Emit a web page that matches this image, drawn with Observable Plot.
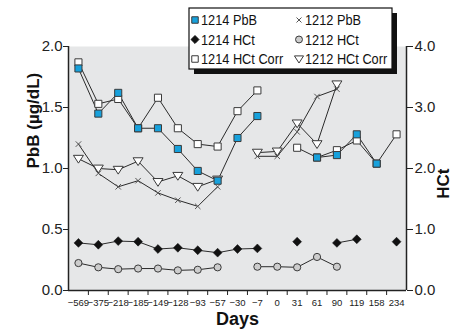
<!DOCTYPE html>
<html><head><meta charset="utf-8">
<script src="https://cdn.jsdelivr.net/npm/d3@7"></script>
<script src="https://cdn.jsdelivr.net/npm/@observablehq/plot@0.6"></script>
<style>body{margin:0;background:#fff} svg{display:block}</style>
</head><body><div id="chart"></div>
<script>
// Categories (days)
const days = [-569,-375,-218,-185,-149,-128,-93,-57,-30,-7,0,31,61,90,119,158,234];
// Left axis series (µg/dL)
const pbb1214     = [1.82,1.45,1.62,1.33,1.33,1.16,0.98,0.90,1.25,1.43,null,null,1.09,1.11,1.28,1.04,null];
const hctCorr1214 = [1.87,1.53,1.57,1.33,1.58,1.33,1.20,1.18,1.47,1.64,null,1.17,1.09,1.15,1.23,1.04,1.28];
const pbb1212     = [1.20,0.96,0.85,0.90,0.80,0.74,0.69,0.85,null,1.10,1.10,1.30,1.59,1.65,null,null,null];
const hctCorr1212 = [1.08,1.00,0.99,1.06,0.89,0.94,0.85,0.91,null,1.13,1.14,1.37,1.20,1.69,null,null,null];
// Right axis series (HCt)
const hct1214     = [0.78,0.75,0.81,0.80,0.68,0.70,0.66,0.62,0.68,0.69,null,0.80,null,0.78,0.84,null,0.80];
const hct1212     = [0.45,0.38,0.35,0.36,0.36,0.33,0.34,0.38,null,0.39,0.39,0.38,0.55,0.39,null,null,null];
// Axis ticks
const leftTicks  = [0, 0.5, 1.0, 1.5, 2.0];
const rightTicks = [0, 1.0, 2.0, 3.0, 4.0];
const hctRatio = 2; // right axis max 4.0 vs left max 2.0

const BLUE = "#17a1dc", BG = "#e6e7e8", LINE = "#2b2b2b", MK = "#3a3a3a";
const SANS = "'Liberation Sans',Arial,sans-serif";

const idx = d3.range(days.length);
const fmtDay = d => String(d).replace("-", "\u2212");
const bounds = d3.range(days.length - 1).map(i => i + 0.5);

const triDown = { draw(ctx, size) { const r = Math.sqrt(size / Math.PI);
  ctx.moveTo(-1.25*r, -0.85*r); ctx.lineTo(1.25*r, -0.85*r); ctx.lineTo(0, 1.1*r); ctx.closePath(); } };

const L = arr => ({x: i => i, y: i => arr[i] == null ? null : arr[i]});
const R = arr => ({x: i => i, y: i => arr[i] == null ? null : arr[i] / hctRatio});
const lineOpt = {stroke: LINE, strokeWidth: 1};

const plot = Plot.plot({
  width: 463, height: 330,
  marginLeft: 68, marginRight: 57, marginTop: 46, marginBottom: 40,
  x: {type: "linear", domain: [-0.5, days.length - 0.5]},
  y: {domain: [0, 2]},
  style: {fontFamily: SANS, background: "white", color: "#222"},
  marks: [
    Plot.frame({fill: BG, stroke: "none"}),
    // axes
    Plot.axisX({ticks: idx, tickSize: 0, tickPadding: 9, tickFormat: i => fmtDay(days[i]),
      fontSize: 9.5, label: null, ariaLabel: "xlabels"}),
    Plot.axisX({ticks: bounds, tickSize: 5, tickFormat: () => "", label: null, stroke: "#222"}),
    Plot.axisY({anchor: "left", ticks: leftTicks, tickSize: 5, tickPadding: 1,
      tickFormat: d3.format(".1f"), fontSize: 15, label: null}),
    Plot.axisY({anchor: "right", ticks: rightTicks.map(v => v / hctRatio), tickSize: 6, tickPadding: 2,
      tickFormat: v => d3.format(".1f")(v * hctRatio), fontSize: 15, label: null}),
    Plot.ruleX([-0.5, days.length - 0.5], {stroke: "#222", strokeWidth: 1.5}),
    Plot.ruleY([0], {stroke: "#222", strokeWidth: 1.5}),
    // titles
    Plot.text(["PbB (\u00b5g/dL)"], {frameAnchor: "left", dx: -35, rotate: -90, fontSize: 17,
      fontWeight: "bold", fontFamily: SANS, fill: "#111"}),
    Plot.text(["HCt"], {frameAnchor: "right", dx: 37, rotate: -90, fontSize: 17,
      fontWeight: "bold", fontFamily: SANS, fill: "#111"}),
    Plot.text(["Days"], {frameAnchor: "bottom", dy: 29, fontSize: 18, lineAnchor: "middle",
      fontWeight: "bold", fontFamily: SANS, fill: "#111"}),
    // lines
    Plot.line(idx, {...R(hct1212), ...lineOpt}),
    Plot.line(idx, {...R(hct1214), ...lineOpt}),
    Plot.line(idx, {...L(pbb1212), ...lineOpt}),
    Plot.line(idx, {...L(hctCorr1212), ...lineOpt}),
    Plot.line(idx, {...L(hctCorr1214), ...lineOpt}),
    Plot.line(idx, {...L(pbb1214), ...lineOpt}),
    // markers
    Plot.dot(idx, {...R(hct1212), symbol: "circle", r: 3.6, fill: "#cdcdcd", stroke: MK, strokeWidth: 1}),
    Plot.dot(idx, {...R(hct1214), symbol: "diamond2", r: 4, fill: "#111", stroke: "#111", strokeWidth: 0.5}),
    Plot.dot(idx, {...L(pbb1212), symbol: "times", r: 2.6, stroke: "#555", strokeWidth: 1}),
    Plot.dot(idx, {...L(hctCorr1212), symbol: triDown, r: 4, fill: "white", stroke: MK, strokeWidth: 1}),
    Plot.dot(idx, {...L(hctCorr1214), symbol: "square", r: 4, fill: "white", stroke: MK, strokeWidth: 1}),
    Plot.dot(idx, {...L(pbb1214), symbol: "square", r: 4, fill: BLUE, stroke: MK, strokeWidth: 1})
  ]
});
document.getElementById("chart").appendChild(plot);

// Condense x tick labels horizontally (reference uses a condensed face)
d3.select(plot).selectAll('g[aria-label="xlabels"] text').each(function() {
  const t = this.getAttribute("transform") || "";
  this.setAttribute("transform", t + " scale(0.76,1)");
});

// Legend
const legendItems = [
  {label: "1214 PbB", col: 0, row: 0, sym: d3.symbolSquare, size: 42, fill: BLUE, stroke: MK},
  {label: "1214 HCt", col: 0, row: 1, sym: d3.symbolDiamond2, size: 40, fill: "#111", stroke: "#111"},
  {label: "1214 HCt Corr", col: 0, row: 2, sym: d3.symbolSquare, size: 42, fill: "white", stroke: MK},
  {label: "1212 PbB", col: 1, row: 0, sym: d3.symbolTimes, size: 18, fill: "none", stroke: "#555"},
  {label: "1212 HCt", col: 1, row: 1, sym: d3.symbolCircle, size: 38, fill: "#cdcdcd", stroke: MK},
  {label: "1212 HCt Corr", col: 1, row: 2, sym: triDown, size: 42, fill: "white", stroke: MK}
];
const svg = d3.select(plot);
const lg = svg.append("g");
lg.append("rect").attr("x", 194).attr("y", 13).attr("width", 203).attr("height", 61).attr("fill", "#111");
lg.append("rect").attr("x", 189).attr("y", 8).attr("width", 203).attr("height", 61)
  .attr("fill", "white").attr("stroke", "#111").attr("stroke-width", 1.2);
const colX = [195, 299];
legendItems.forEach(it => {
  const y = 20 + it.row * 19.5;
  lg.append("path").attr("transform", `translate(${colX[it.col]},${y})`)
    .attr("d", d3.symbol(it.sym, it.size)()).attr("fill", it.fill).attr("stroke", it.stroke).attr("stroke-width", 1);
  lg.append("text").attr("transform", `translate(${colX[it.col] + 6},${y}) scale(0.88,1)`)
    .attr("dy", "0.35em").attr("text-anchor", "start")
    .attr("font-family", SANS).attr("font-size", 14.5).attr("fill", "#111").text(it.label);
});
</script></body></html>
